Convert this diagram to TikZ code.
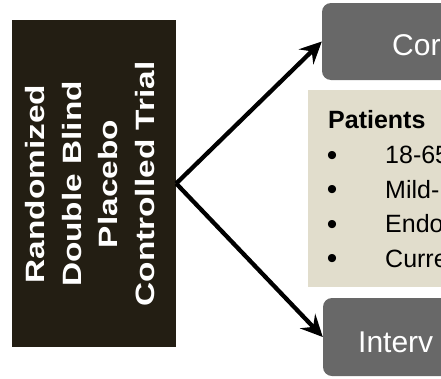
\documentclass[tikz,border=0pt]{standalone}
\usepackage{fontspec}
\setmainfont{Liberation Sans}
\usepackage{graphicx}
\usetikzlibrary{arrows.meta}
\definecolor{darkbox}{RGB}{35,30,19}
\definecolor{graybox}{RGB}{104,104,104}
\definecolor{beige}{RGB}{225,221,204}
\tikzset{
  darkstyle/.style={draw=none, fill=darkbox, rectangle, inner sep=0pt},
  graystyle/.style={draw=none, fill=graybox, rectangle, rounded corners=9pt, inner sep=0pt},
  beigestyle/.style={draw=none, fill=beige, rectangle, inner sep=0pt},
  graytext/.style={anchor=base west, inner sep=0pt, text=white, font=\fontsize{30}{36}\selectfont},
  bodytext/.style={anchor=base west, inner sep=0pt, text=black, font=\fontsize{25}{30}\selectfont},
  bullettext/.style={anchor=base, inner sep=0pt, text=black, font=\fontsize{30}{34}\selectfont},
  bigarrow/.style={line width=4.3pt, -{Stealth[length=22pt,width=21pt,inset=8pt]}}
}
\begin{document}
\begin{tikzpicture}[x=1pt,y=-1pt]
\useasboundingbox (0,0) rectangle (441,378);
% left dark box
\node[darkstyle, minimum width=164pt, minimum height=327pt] (rct) at (94,183.5) {};
\node[rotate=90, text=white, inner sep=0pt] (rcttext) at (92,184)
  {\bfseries\fontsize{26.5}{36.5}\selectfont\scalebox{1.26}[1]{\begin{tabular}{@{}c@{}}Randomized\\Double Blind\\Placebo\\Controlled Trial\end{tabular}}};
% right boxes
\node[graystyle, minimum width=150pt, minimum height=77pt] (ctrl) at (397,41.5) {};
\node[graytext] (ctrltext) at (392,55) {Cor};
\node[beigestyle, minimum width=150pt, minimum height=197pt] (pat) at (383,188.5) {};
\node[graystyle, minimum width=150pt, minimum height=78pt] (intv) at (398,337) {};
\node[graytext] (intvtext) at (358,352) {Interv};
% patient text
\node[bodytext, font=\bfseries\fontsize{25}{30}\selectfont] (pt) at (328,128) {Patients};
\node[bullettext] (b1) at (332,165) {•};
\node[bullettext] (b2) at (332,199.5) {•};
\node[bullettext] (b3) at (332,234) {•};
\node[bullettext] (b4) at (332,268.5) {•};
\node[bodytext] (t1) at (385,163.5) {18-65};
\node[bodytext] (t2) at (385,198) {Mild-};
\node[bodytext] (t3) at (385,232.5) {Endo};
\node[bodytext] (t4) at (385,267) {Curre};
% arrows
\draw[bigarrow] (rct.east) -- (ctrl.west);
\draw[bigarrow] (rct.east) -- (intv.west);
\end{tikzpicture}
\end{document}
